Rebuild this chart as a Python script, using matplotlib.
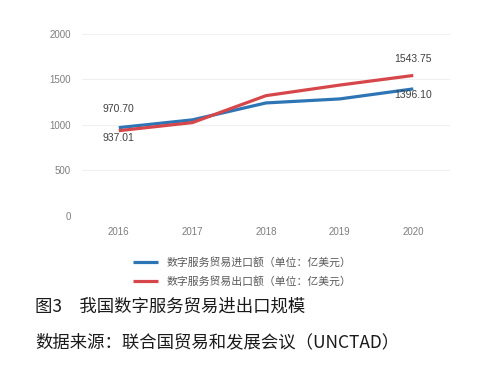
import matplotlib.pyplot as plt

plt.rcParams['font.family'] = ['Noto Sans CJK SC', 'DejaVu Sans']

years = ['2016', '2017', '2018', '2019', '2020']
imports = [970.70, 1056, 1242, 1286, 1396.10]
exports = [937.01, 1026, 1322, 1438, 1543.75]
yticks = [0, 500, 1000, 1500, 2000]

num_font = ['Liberation Sans', 'DejaVu Sans']

fig = plt.figure(figsize=(4.85, 3.73), dpi=100)
ax = fig.add_axes([0.169, 0.421, 0.759, 0.488])

x = range(len(years))
l1, = ax.plot(x, imports, color='#2E75B6', lw=2.3, label='数字服务贸易进口额（单位：亿美元）', solid_capstyle='butt')
l2, = ax.plot(x, exports, color='#D6474B', lw=2.3, label='数字服务贸易出口额（单位：亿美元）', solid_capstyle='butt')

ax.set_xlim(-0.5, 4.5)
ax.set_ylim(0, 2000)
ax.set_xticks(list(x))
ax.set_xticklabels(years, family=num_font)
ax.set_yticks(yticks)
ax.set_yticklabels([str(v) for v in yticks], family=num_font)
ax.grid(axis='y', color='#f0f0f0', lw=0.8)
ax.set_axisbelow(True)
for s in ax.spines.values():
    s.set_visible(False)
ax.tick_params(length=0, labelsize=7, colors='#7f7f7f', pad=8)

lab = dict(fontsize=7.5, color='#404040', ha='center', family=num_font)
ax.annotate(f'{imports[0]:.2f}', (0, imports[0]), xytext=(0, 10), textcoords='offset points', va='bottom', **lab)
ax.annotate(f'{exports[0]:.2f}', (0, exports[0]), xytext=(0, -2), textcoords='offset points', va='top', **lab)
ax.annotate(f'{exports[4]:.2f}', (4, exports[4]), xytext=(0, 8), textcoords='offset points', va='bottom', **lab)
ax.annotate(f'{imports[4]:.2f}', (4, imports[4]), xytext=(0, -1), textcoords='offset points', va='top', **lab)

leg = fig.legend(handles=[l1, l2], loc='center', bbox_to_anchor=(0.5, 0.27), frameon=False,
                 fontsize=7.8, handlelength=2.3, labelspacing=0.75, handletextpad=0.8)
for t in leg.get_texts():
    t.set_color('#595959')

fig.text(0.072, 0.177, '图3\u2003我国数字服务贸易进出口规模', fontsize=12.5, color='#1a1a1a', va='center')
fig.text(0.072, 0.083, '数据来源：联合国贸易和发展会议（UNCTAD）', fontsize=12.5, color='#1a1a1a', va='center')

fig.savefig('out.png', dpi=100)
